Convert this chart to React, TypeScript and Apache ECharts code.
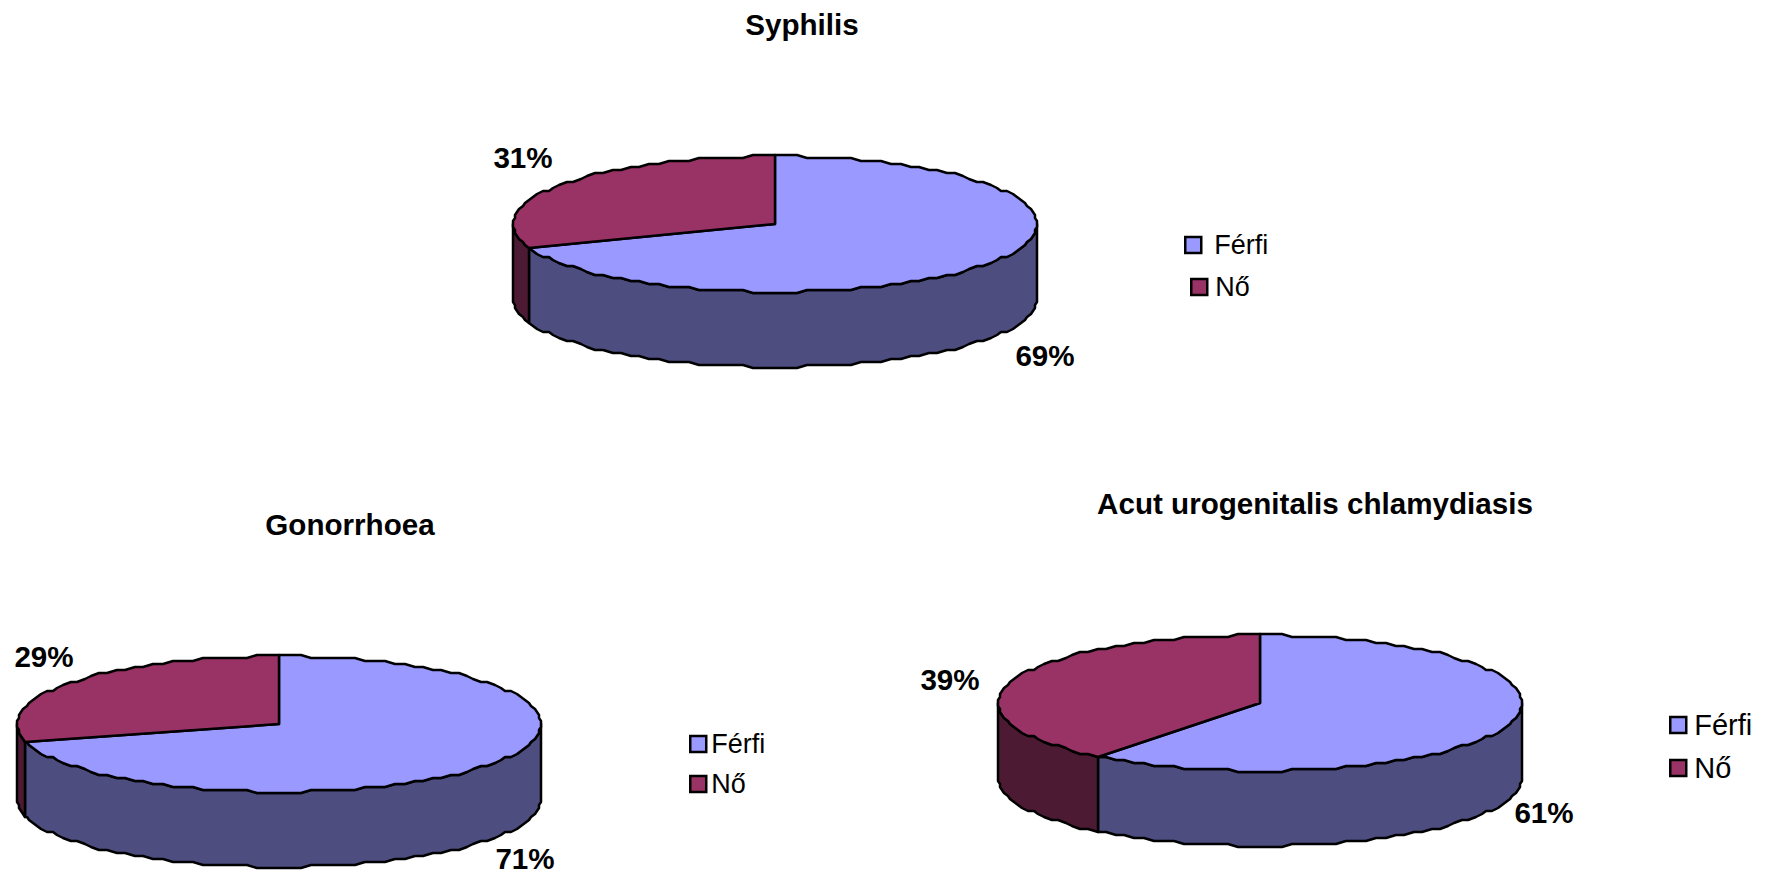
import React, { useEffect, useRef } from "react";
import * as echarts from "echarts";

const categories = ["Férfi", "Nő"];
const syphilisValues = [69.3, 30.7];
const gonorrhoeaValues = [71, 29];
const chlamydiasisValues = [60.6, 39.4];
const titles = ["Syphilis", "Gonorrhoea", "Acut urogenitalis chlamydiasis"];

const topColors = ["#9999FF", "#993366"];
const sideColors = ["#4D4D80", "#4D1A33"];

const layouts = [
  {
    values: syphilisValues, cx: 775, cy: 224, rx: 262, ry: 68, depth: 75,
    title: [802, 24], labels: [[1045, 355], [523, 157]],
    legend: [[1184, 245, 1213, 0], [1190, 287, 1214, 0]], legendFont: 27,
  },
  {
    values: gonorrhoeaValues, cx: 279, cy: 724, rx: 262, ry: 68, depth: 75,
    title: [350, 524], labels: [[525, 858], [44, 656]],
    legend: [[689, 744, 710, 0], [689, 784, 710, 0]], legendFont: 27,
  },
  {
    values: chlamydiasisValues, cx: 1260, cy: 703, rx: 262, ry: 68, depth: 75,
    title: [1315, 503], labels: [[1544, 812], [950, 679]],
    legend: [[1669, 725, 1693, 0], [1669, 765, 1693, 3]], legendFont: 29,
  },
];

const FONT = '"Liberation Sans", Arial, sans-serif';
const THETA_STEP = 2.4;

// Coarse outline, like the low-resolution polygon edge of the original picture.
// Points sit on one fixed angular grid so that neighbouring faces share their edge.
function snap(v: number, step: number) {
  return Math.round(v / step) * step;
}
function ellipsePoint(cx: number, cy: number, rx: number, ry: number, deg: number) {
  const t = (deg * Math.PI) / 180;
  return [cx + snap(rx * Math.sin(t), 2), cy + snap(-ry * Math.cos(t), 3)];
}
function arcPoints(cx: number, cy: number, rx: number, ry: number, from: number, to: number) {
  const pts = [ellipsePoint(cx, cy, rx, ry, from)];
  let d = (Math.floor(from / THETA_STEP) + 1) * THETA_STEP;
  for (; d < to; d += THETA_STEP) pts.push(ellipsePoint(cx, cy, rx, ry, d));
  pts.push(ellipsePoint(cx, cy, rx, ry, to));
  return pts;
}

function makeSeries(panel: number, cat: number) {
  const lay = layouts[panel];
  const total = lay.values.reduce((a, b) => a + b, 0);
  const before = lay.values.slice(0, cat).reduce((a, b) => a + b, 0);
  return {
    type: "custom",
    name: categories[cat],
    coordinateSystem: "none",
    silent: true,
    z: 2 + cat,
    itemStyle: { color: topColors[cat], borderColor: "#000", borderWidth: 2.5 },
    data: [[lay.values[cat], before, total]],
    renderItem: (_p: any, api: any) => {
      const value = api.value(0);
      const start = (api.value(1) / api.value(2)) * 360;
      const end = start + (value / api.value(2)) * 360;
      const { cx, cy, rx, ry, depth } = lay;
      const children: any[] = [];
      const sFrom = Math.max(start, 90);
      const sTo = Math.min(end, 270);
      if (sTo > sFrom) {
        const upper = arcPoints(cx, cy, rx, ry, sFrom, sTo);
        const lower = arcPoints(cx, cy + depth, rx, ry, sFrom, sTo).reverse();
        children.push({
          type: "polygon",
          shape: { points: [...upper, ...lower] },
          style: { fill: sideColors[cat], stroke: "#000", lineWidth: 2.5, lineJoin: "round" },
        });
      }
      children.push({
        type: "polygon",
        shape: { points: [[cx, cy], ...arcPoints(cx, cy, rx, ry, start, end)] },
        style: { fill: topColors[cat], stroke: "#000", lineWidth: 2.5, lineJoin: "round" },
      });
      children.push({
        type: "text",
        z2: 10,
        style: {
          text: `${Math.round(value)}%`,
          x: lay.labels[cat][0],
          y: lay.labels[cat][1],
          align: "center",
          verticalAlign: "middle",
          fill: "#000",
          font: `bold 29.6px ${FONT}`,
        },
      });
      return { type: "group", children };
    },
  };
}

export default function App() {
  const ref = useRef<HTMLDivElement>(null);
  useEffect(() => {
    const chart = echarts.init(ref.current!, null, { renderer: "svg" });
    const series: any[] = [];
    const legend: any[] = [];
    const title: any[] = [];
    layouts.forEach((lay, p) => {
      title.push({
        text: titles[p],
        left: lay.title[0],
        top: lay.title[1],
        textAlign: "center",
        textVerticalAlign: "middle",
        padding: 0,
        textStyle: { fontFamily: FONT, fontWeight: "bold", fontSize: 29.6, color: "#000" },
      });
      categories.forEach((name, c) => {
        series.push(makeSeries(p, c));
        const [x, y, textX, dy] = lay.legend[c];
        const h = Math.round(lay.legendFont * 1.2);
        legend.push({
          data: [name],
          left: x,
          top: y - h / 2,
          padding: 0,
          icon: "rect",
          itemWidth: 16,
          itemHeight: 16,
          selectedMode: false,
          itemStyle: { color: topColors[c], borderColor: "#000", borderWidth: 2.5 },
          textStyle: {
            fontFamily: FONT,
            fontSize: lay.legendFont,
            color: "#000",
            height: h,
            lineHeight: h,
            padding: [dy * 2, 0, 0, textX - x - 21],
          },
        });
      });
    });
    chart.setOption({
      animation: false,
      backgroundColor: "#fff",
      title,
      legend,
      series,
    });
    return () => chart.dispose();
  }, []);
  return <div ref={ref} style={{ position: "absolute", left: 0, top: 0, width: 1773, height: 875 }} />;
}
